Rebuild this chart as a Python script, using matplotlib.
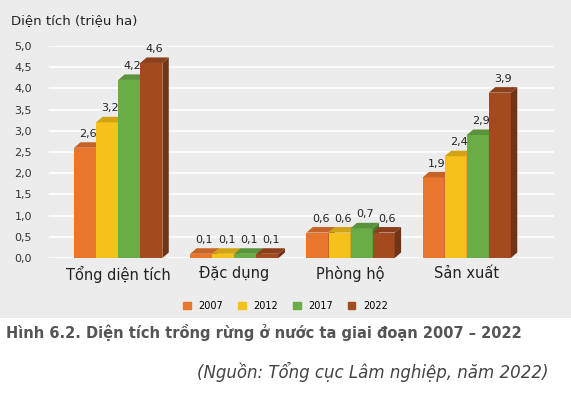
import matplotlib
matplotlib.use('Agg')
import matplotlib.pyplot as plt
from matplotlib.patches import Polygon, Rectangle
import numpy as np

categories = ['Tổng diện tích', 'Đặc dụng', 'Phòng hộ', 'Sản xuất']
years = ['2007', '2012', '2017', '2022']
values = {
	'2007': [2.6, 0.1, 0.6, 1.9],
	'2012': [3.2, 0.1, 0.6, 2.4],
	'2017': [4.2, 0.1, 0.7, 2.9],
	'2022': [4.6, 0.1, 0.6, 3.9],
}
colors = {'2007': '#e8762d', '2012': '#f6c11a', '2017': '#6aad46', '2022': '#a34a1f'}


def shade(c, f):
	r, g, b = matplotlib.colors.to_rgb(c)
	return (r * f, g * f, b * f)


fig = plt.figure(figsize=(5.71, 4.0), dpi=100)
fig.patches.append(Rectangle((0, 0.205), 1, 0.795, transform=fig.transFigure,
	facecolor='#ececec', edgecolor='none', zorder=-10))
ax = fig.add_axes([0.085, 0.355, 0.885, 0.53])
ax.set_facecolor('none')
ax.set_xlim(-0.6, 3.75)
ax.set_ylim(0, 5.0)
ax.set_yticks(np.arange(0, 5.01, 0.5))
ax.set_yticklabels([f'{v:.1f}'.replace('.', ',') for v in np.arange(0, 5.01, 0.5)],
	fontsize=8, color='#333333')
ax.set_xticks(range(len(categories)))
ax.set_xticklabels(categories, fontsize=10.5, color='#222222')
ax.tick_params(length=0, pad=6)
ax.tick_params(axis='y', pad=12)
ax.grid(axis='y', color='white', lw=1.2)
ax.set_axisbelow(True)
for s in ax.spines.values():
	s.set_visible(False)

bw = 0.19
dx, dy = 0.055, 0.13
for i, y in enumerate(years):
	for j, v in enumerate(values[y]):
		x0 = j - 0.38 + i * bw
		c = colors[y]
		ax.add_patch(Rectangle((x0, 0), bw, v, facecolor=c, edgecolor='none', zorder=3))
		ax.add_patch(Polygon([(x0 + bw, 0), (x0 + bw + dx, dy), (x0 + bw + dx, v + dy),
			(x0 + bw, v)], facecolor=shade(c, 0.7), edgecolor='none', zorder=3))
		ax.add_patch(Polygon([(x0, v), (x0 + dx, v + dy), (x0 + bw + dx, v + dy),
			(x0 + bw, v)], facecolor=shade(c, 0.85), edgecolor='none', zorder=3))
		ax.text(x0 + bw / 2 + dx / 2, v + dy + 0.08, f'{v:.1f}'.replace('.', ','),
			ha='center', va='bottom', fontsize=8, color='#222222', zorder=4)

fig.text(0.02, 0.94, 'Diện tích (triệu ha)', fontsize=9.5, color='#222222')

handles = [Rectangle((0, 0), 1, 1, color=colors[y]) for y in years]
fig.legend(handles, years, loc='center', bbox_to_anchor=(0.5, 0.235), ncol=4,
	frameon=False, fontsize=7, handlelength=0.8, handleheight=0.8, columnspacing=1.5)

fig.text(0.01, 0.155, 'Hình 6.2. Diện tích trồng rừng ở nước ta giai đoạn 2007 – 2022',
	fontsize=10.5, fontweight='bold', color='#555555')
fig.text(0.96, 0.055, '(Nguồn: Tổng cục Lâm nghiệp, năm 2022)', ha='right',
	fontsize=12, style='italic', color='#444444')

fig.savefig('out.png', dpi=100)
